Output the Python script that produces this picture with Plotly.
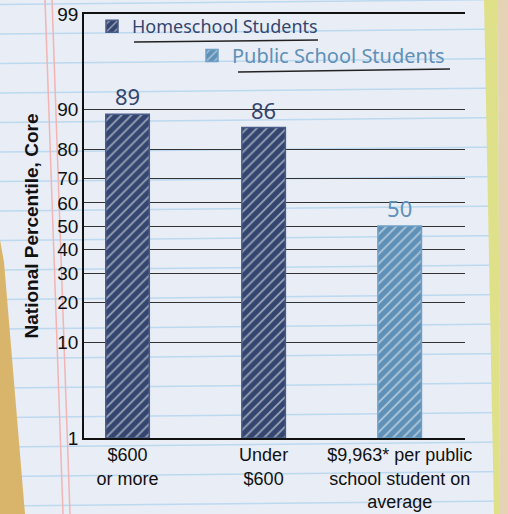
import plotly.graph_objects as go
from statistics import NormalDist

# ---- data ----
categories = ["$600<br>or more", "Under<br>$600", "$9,963* per public<br>school student on<br>average"]
home_categories = categories[:2]
home_values = [89, 86]
public_categories = categories[2:]
public_values = [50]
series_names = ["Homeschool Students", "Public School Students"]
tick_percentiles = [1, 10, 20, 30, 40, 50, 60, 70, 80, 90, 99]
tick_labels = ["1", "10", "20", "30", "40", "50", "60", "70", "80", "90", "99"]

ND = NormalDist()
def z(p):
    return ND.inv_cdf(p / 100.0)

BASE = z(1)
TOP = z(99)

NAVY = "#34466f"
LIGHT = "#5f90b7"

fig = go.Figure()
fig.add_trace(go.Bar(
    x=home_categories, y=[z(v) - BASE for v in home_values], base=BASE,
    name=series_names[0], width=0.32,
    marker=dict(color=NAVY, line=dict(color="#4a5d88", width=1.5),
                pattern=dict(shape="/", fgcolor="#ffffff", bgcolor=NAVY, size=7, solidity=0.25)),
    text=[str(v) for v in home_values], textposition="outside", cliponaxis=False,
    textfont=dict(color=NAVY, size=22, family="Noto Sans"),
    legend="legend", showlegend=True,
))
fig.add_trace(go.Bar(
    x=public_categories, y=[z(v) - BASE for v in public_values], base=BASE,
    name=series_names[1], width=0.32,
    marker=dict(color=LIGHT, line=dict(color="#6fa0c6", width=1.5),
                pattern=dict(shape="/", fgcolor="#ffffff", bgcolor=LIGHT, size=7, solidity=0.25)),
    text=[str(v) for v in public_values], textposition="outside", cliponaxis=False,
    textfont=dict(color=LIGHT, size=22, family="Noto Sans"),
    legend="legend2", showlegend=True,
))

W, H = 508, 514
L, R, T, B = 84, 43, 14, 76
pw, ph = W - L - R, H - T - B

def px2x(px):
    return (px - L) / pw

def px2y(py):
    return (H - B - py) / ph

shapes = []
# notebook background lines (decoration)
for k in range(-1, 17):
    yy = 32 + 29.5 * k
    shapes.append(dict(type="line", xref="paper", yref="paper", x0=px2x(0), x1=px2x(W),
                       y0=px2y(yy + 2), y1=px2y(yy - 3), line=dict(color="#bcd9ef", width=1.5), layer="below"))
for x0 in (45, 52):
    shapes.append(dict(type="line", xref="paper", yref="paper", x0=px2x(x0), x1=px2x(x0 + 18),
                       y0=px2y(0), y1=px2y(H), line=dict(color="#f2b4b4", width=1.5), layer="below"))
# left wooden edge
shapes.append(dict(type="path", xref="paper", yref="paper",
                   path="M {} {} L {} {} L {} {} L {} {} Z".format(px2x(0), px2y(240), px2x(4), px2y(262),
                                                                     px2x(25), px2y(H), px2x(0), px2y(H)),
                   fillcolor="#d9b56c", line=dict(width=0), layer="below"))
# right yellow edge and tan border
shapes.append(dict(type="path", xref="paper", yref="paper",
                   path="M {} {} L {} {} L {} {} L {} {} Z".format(px2x(484), px2y(0), px2x(498), px2y(0),
                                                                     px2x(500), px2y(H), px2x(494), px2y(H)),
                   fillcolor="#dfe08a", line=dict(width=0), layer="below"))
shapes.append(dict(type="path", xref="paper", yref="paper",
                   path="M {} {} L {} {} L {} {} L {} {} Z".format(px2x(498), px2y(0), px2x(W), px2y(0),
                                                                     px2x(W), px2y(H), px2x(500), px2y(H)),
                   fillcolor="#e6d3b5", line=dict(width=0), layer="below"))
# legend underlines
shapes.append(dict(type="line", xref="paper", yref="paper", x0=px2x(134), x1=px2x(318),
                   y0=px2y(42), y1=px2y(40), line=dict(color="#222", width=1.5)))
shapes.append(dict(type="line", xref="paper", yref="paper", x0=px2x(238), x1=px2x(450),
                   y0=px2y(72), y1=px2y(69), line=dict(color="#222", width=1.5)))

fig.update_layout(
    width=W, height=H,
    margin=dict(l=L, r=R, t=T, b=B, autoexpand=False),
    paper_bgcolor="#e9edf6",
    plot_bgcolor="rgba(0,0,0,0)",
    barmode="overlay",
    showlegend=True,
    shapes=shapes,
    font=dict(family="Liberation Sans, Arial, sans-serif", color="#111"),
    legend=dict(x=px2x(92), y=px2y(8), xanchor="left", yanchor="top",
                font=dict(size=18, color=NAVY, family="Noto Sans"), bgcolor="rgba(0,0,0,0)"),
    legend2=dict(x=px2x(192), y=px2y(36), xanchor="left", yanchor="top",
                 font=dict(size=20, color=LIGHT, family="Noto Sans"), bgcolor="rgba(0,0,0,0)"),
    xaxis=dict(type="category", categoryorder="array", categoryarray=categories,
               range=[-0.32, 2.48], showline=True, linecolor="#111", linewidth=1.5, mirror=True,
               showgrid=False, ticks="", automargin=False,
               tickfont=dict(size=18, color="#111")),
    yaxis=dict(range=[BASE, TOP], tickvals=[z(p) for p in tick_percentiles], ticktext=tick_labels,
               showline=True, linecolor="#111", linewidth=1.5, showgrid=True, gridcolor="#333",
               gridwidth=1, zeroline=False, ticks="", automargin=False, tickfont=dict(size=19, color="#111"),
               title=dict(text="<b>National Percentile, Core</b>", font=dict(size=19, color="#111"), standoff=14)),
)

fig.write_html("out.html", config={"displayModeBar": False},
               post_script="document.body.style.margin='0px';")
